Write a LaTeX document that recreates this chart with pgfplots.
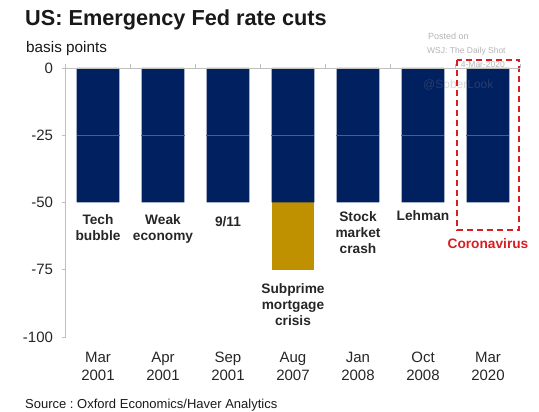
\documentclass[border=0pt]{standalone}
\usepackage{pgfplots}
\pgfplotsset{compat=1.18}
\usepackage{fontspec}
\setmainfont{Liberation Sans}
\frenchspacing
\definecolor{navy}{HTML}{002060}
\definecolor{gold}{HTML}{BF9000}
\definecolor{cred}{RGB}{215,30,35}
\definecolor{axgray}{HTML}{BFBFBF}
\definecolor{midline}{RGB}{80,92,130}
\definecolor{wm}{RGB}{180,180,180}
\begin{document}
\begin{tikzpicture}[x=1pt,y=1pt,
  lab/.style={font=\fontsize{13.7}{16}\selectfont\bfseries, align=center, anchor=north, inner sep=0pt, text=black!85}]
\useasboundingbox (0,0) rectangle (539,412);
\begin{axis}[
  at={(65.5pt,75pt)}, anchor=south west, scale only axis,
  width=455pt, height=269pt,
  xmin=-0.5, xmax=6.5, ymin=-100, ymax=0, clip=false,
  axis x line*=bottom, axis y line*=left,
  x axis line style={draw=none},
  y axis line style={axgray, line width=0.8pt},
  xtick={0,...,6},
  xticklabels={{\strut Mar\\2001},{\strut Apr\\2001},{\strut Sep\\2001},{\strut Aug\\2007},{\strut Jan\\2008},{\strut Oct\\2008},{\strut Mar\\2020}},
  xticklabel style={align=center, anchor=north, inner sep=0pt, yshift=-9pt, font=\fontsize{15}{18}\selectfont, text=black!85},
  major x tick style={draw=none},
  ytick={-100,-75,-50,-25,0},
  yticklabels={-100,-75,-50,-25,0},
  yticklabel style={font=\fontsize{15}{18}\selectfont, text=black!85, xshift=-5pt},
  major y tick style={axgray, line width=0.8pt},
  tick align=outside, major tick length=4pt,
]
\addplot[ybar, bar width=0.6615, bar shift=0pt, fill=gold, draw=none] coordinates {(3,-75)};
\addplot[ybar, bar width=0.6615, bar shift=0pt, fill=navy, draw=none] coordinates {(0,-50) (1,-50) (2,-50) (3,-50) (4,-50) (5,-50) (6,-50)};
\addplot[only marks, mark=-, mark size=21.5pt, mark options={draw=midline, line width=0.7pt}] coordinates {(0,-25) (1,-25) (2,-25) (3,-25) (4,-25) (5,-25) (6,-25)};
\node[lab] at (axis cs:0,-54.3) {Tech\\bubble};
\node[lab] at (axis cs:1,-54.3) {Weak\\economy};
\node[lab] at (axis cs:2,-55) {9/11};
\node[lab] at (axis cs:3,-79.9) {Subprime\\mortgage\\crisis};
\node[lab] at (axis cs:4,-53.2) {Stock\\market\\crash};
\node[lab] at (axis cs:5,-52.8) {Lehman};
\node[lab, text=cred] at (axis cs:6,-63.2) {Coronavirus};
\draw[cred, line width=1.8pt, dash pattern=on 6pt off 4pt] (axis cs:5.52,3) rectangle (axis cs:6.48,-60.2);
\end{axis}
\begin{axis}[
  at={(65.5pt,75pt)}, anchor=south west, scale only axis,
  width=455pt, height=269pt,
  xmin=-0.5, xmax=6.5, ymin=-100, ymax=0,
  axis x line*=top, axis y line=none,
  xtick={-0.5,0.5,...,6.5}, xticklabels={},
  x axis line style={axgray, line width=0.8pt},
  major x tick style={axgray, line width=0.8pt},
  tick align=outside, major tick length=4pt,
]
\addplot[draw=none] coordinates {(0,-50)};
\end{axis}
% titles and notes
\node[anchor=base west, inner sep=0pt, font=\fontsize{21.7}{26}\selectfont\bfseries, text=black!90] at (25,386) {US: Emergency Fed rate cuts};
\node[anchor=base west, inner sep=0pt, font=\fontsize{15.3}{18}\selectfont, text=black!90] at (26,359.3) {basis points};
\node[anchor=base west, inner sep=0pt, font=\fontsize{13}{16}\selectfont, text=black!90] at (25,3.5) {Source : Oxford Economics/Haver Analytics};
% watermark
\node[anchor=west, inner sep=0pt, font=\fontsize{9}{11}\selectfont, text=wm] at (428,376) {Posted on};
\node[anchor=west, inner sep=0pt, font=\fontsize{8.5}{10}\selectfont, text=wm] at (427,361) {WSJ: The Daily Shot};
\node[anchor=east, inner sep=0pt, font=\fontsize{8.5}{10}\selectfont, text=wm] at (505,347) {4-Mar-2020};
\node[anchor=west, inner sep=0pt, font=\fontsize{12}{14}\selectfont, text=gray, text opacity=0.3] at (423,327) {@SoberLook};
\end{tikzpicture}
\end{document}
